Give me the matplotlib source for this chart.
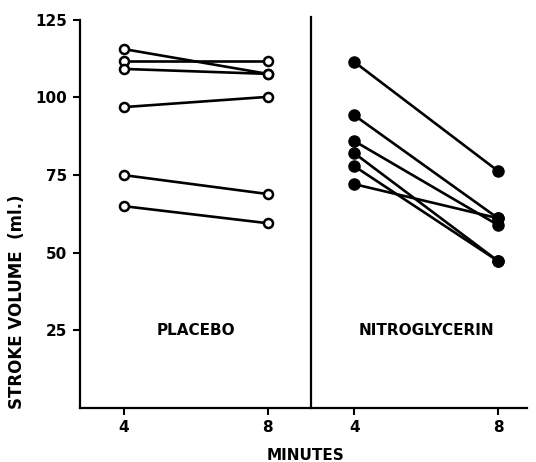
import numpy as np
import matplotlib
matplotlib.use("Agg")
import matplotlib.pyplot as plt

plt.rcParams['font.family'] = ['DejaVu Sans']
plt.rcParams['font.weight'] = 'bold'

# stroke volume (ml.) at 4 and 8 minutes, one pair per subject
minutes = ['4', '8']
placebo_4 = [115.6, 111.8, 109.2, 96.9, 75.0, 65.0]
placebo_8 = [107.6, 111.8, 107.6, 100.2, 68.9, 59.5]
nitro_4 = [111.5, 94.3, 86.0, 82.1, 77.9, 72.1]
nitro_8 = [76.3, 61.1, 58.9, 47.3, 47.3, 61.1]

y_ticks = [25, 50, 75, 100, 125]

fig = plt.figure(figsize=(5.36, 4.62), dpi=100)
ax = fig.add_axes([0.149, 0.117, 0.834, 0.840])

pla_x = np.array([0.0, 1.0])
nit_x = pla_x + 1.6
divider = 1.3

for a, b in zip(placebo_4, placebo_8):
    ax.plot(pla_x, [a, b], color='black', lw=1.9, marker='o', ms=6.5,
            mfc='white', mec='black', mew=1.8, zorder=3)

for a, b in zip(nitro_4, nitro_8):
    ax.plot(nit_x, [a, b], color='black', lw=1.9, marker='o', ms=8,
            mfc='black', mec='black', zorder=3)

ax.plot([divider, divider], [0, 126], color='black', lw=1.6, clip_on=False)

ax.set_xlim(-0.305, 2.8)
ax.set_ylim(0, 125)
ax.set_xticks(list(pla_x) + list(nit_x))
ax.set_xticklabels(minutes + minutes)
ax.set_yticks(y_ticks)

for s in ['top', 'right']:
    ax.spines[s].set_visible(False)
for s in ['left', 'bottom']:
    ax.spines[s].set_linewidth(1.6)
ax.tick_params(axis='both', width=1.5, length=5, labelsize=11, pad=4)

ax.text(0.5, 25, 'PLACEBO', ha='center', va='center', fontsize=11, fontweight='bold')
ax.text(2.1, 25, 'NITROGLYCERIN', ha='center', va='center', fontsize=11, fontweight='bold')

fig.text(306 / 536, 1 - 455 / 462, 'MINUTES', ha='center', va='center', fontsize=11, fontweight='bold')
fig.text(17 / 536, 1 - 302 / 462, 'STROKE VOLUME  (ml.)', ha='center', va='center',
         rotation=90, fontsize=12, fontweight='bold')

fig.savefig('out.png', dpi=100)
